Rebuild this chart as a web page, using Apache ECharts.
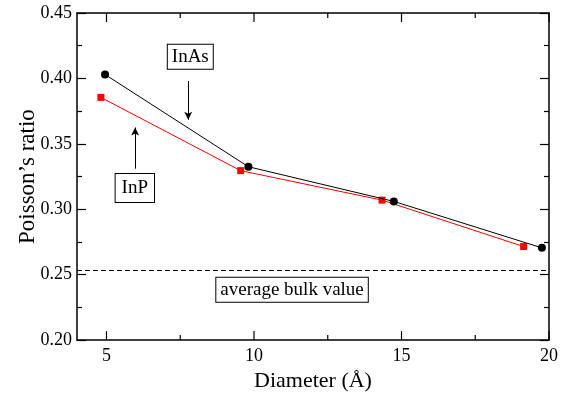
<!DOCTYPE html>
<html><head><meta charset="utf-8">
<script src="https://cdn.jsdelivr.net/npm/echarts@6/dist/echarts.min.js"></script>
<style>html,body{margin:0;padding:0;background:#fff}#c{width:567px;height:397px}</style>
</head><body><div id="c"></div>
<script>
const inasX = [4.95, 9.81, 14.74, 19.76];
const inasY = [0.403, 0.3325, 0.306, 0.2705];
const inpX = [4.81, 9.55, 14.34, 19.14];
const inpY = [0.3855, 0.3295, 0.307, 0.2715];
const bulkValue = 0.2535;
const xMajorTicks = [5, 10, 15, 20];
const xMinorTicks = [7.5, 12.5, 17.5];
const labels = ['InAs', 'InP', 'average bulk value'];

const F = 'Liberation Serif';
const chart = echarts.init(document.getElementById('c'), null, {renderer: 'canvas'});

function xAx(pos, showLabel) {
  return {
    type: 'value', min: 4, max: 20, position: pos,
    axisLine: {show: true, onZero: false, lineStyle: {color: '#000', width: 1.5}},
    axisTick: {show: false},
    axisLabel: {show: showLabel, customValues: xMajorTicks, fontFamily: F, fontSize: 18, color: '#000', margin: 7},
    splitLine: {show: false}
  };
}
function yAx(pos, showLabel) {
  return {
    type: 'value', min: 0.2, max: 0.45, interval: 0.05, position: pos,
    axisLine: {show: true, onZero: false, lineStyle: {color: '#000', width: 1.5}},
    axisTick: {show: true, inside: true, length: 9, lineStyle: {color: '#000', width: 1.2}},
    minorTick: {show: true, splitNumber: 2, length: 5, lineStyle: {color: '#000', width: 1.2}},
    axisLabel: {show: showLabel, fontFamily: F, fontSize: 18, color: '#000', margin: 5,
      formatter: v => v.toFixed(2)},
    splitLine: {show: false}, minorSplitLine: {show: false}
  };
}

const xs = [xAx('bottom', true), xAx('top', false)];
xs[0].name = 'Diameter (Å)';
xs[0].nameLocation = 'middle';
xs[0].nameGap = 27;
xs[0].nameTextStyle = {fontFamily: F, fontSize: 22, color: '#000'};
const ys = [yAx('left', true), yAx('right', false)];
ys[0].name = 'Poisson\u2019s ratio';
ys[0].nameLocation = 'middle';
ys[0].nameGap = 38;
ys[0].nameMoveOverlap = false;
ys[0].nameTextStyle = {fontFamily: F, fontSize: 23, color: '#000'};

function boxPoint(text, coord, pad) {
  return {coord: coord, symbol: 'rect', symbolSize: 1,
    itemStyle: {color: 'rgba(0,0,0,0)'},
    label: {show: true, position: 'inside', formatter: text, fontFamily: F, fontSize: 19, color: '#000',
      backgroundColor: '#fff', borderColor: '#000', borderWidth: 1, padding: pad}};
}

const tickData = xMajorTicks.map(v => [v, 9]).concat(xMinorTicks.map(v => [v, 5]));

chart.setOption({
  animation: false,
  backgroundColor: '#fff',
  grid: {left: 77, right: 18, top: 13, bottom: 54},
  xAxis: xs,
  yAxis: ys,
  series: [
    {
      name: 'xticks', type: 'custom', silent: true, clip: false, z: 1,
      data: tickData,
      renderItem: function (params, api) {
        const v = api.value(0), len = api.value(1);
        const b = api.coord([v, 0.2]);
        const t = api.coord([v, 0.45]);
        return {type: 'group', children: [
          {type: 'line', shape: {x1: b[0], y1: b[1], x2: b[0], y2: b[1] - len}, style: {stroke: '#000', lineWidth: 1.2}},
          {type: 'line', shape: {x1: t[0], y1: t[1], x2: t[0], y2: t[1] + len}, style: {stroke: '#000', lineWidth: 1.2}}
        ]};
      }
    },
    {
      name: 'InP', type: 'line', data: inpX.map((x, i) => [x, inpY[i]]),
      symbol: 'rect', symbolSize: 7, color: '#ff0000',
      lineStyle: {color: '#ff0000', width: 1}, itemStyle: {color: '#ff0000'}, z: 2,
      markLine: {
        silent: true, symbol: ['none', 'arrow'], symbolSize: [6, 8],
        lineStyle: {color: '#000', width: 1, type: 'solid'}, label: {show: false},
        data: [
          [{coord: [5.97, 0.331]}, {coord: [5.97, 0.3625]}],
          [{coord: [7.77, 0.398]}, {coord: [7.77, 0.3685]}]
        ]
      },
      markPoint: {
        silent: true,
        data: [
          boxPoint(labels[0], [7.84, 0.4166], [3, 4, 2, 4]),
          boxPoint(labels[1], [5.96, 0.3162], [5, 6, 4, 6]),
          boxPoint(labels[2], [11.29, 0.2385], [3, 4, 2, 4])
        ]
      }
    },
    {
      name: 'InAs', type: 'line', data: inasX.map((x, i) => [x, inasY[i]]),
      symbol: 'circle', symbolSize: 8, color: '#000',
      lineStyle: {color: '#000', width: 1}, itemStyle: {color: '#000'}, z: 3,
      markLine: {
        silent: true, symbol: ['none', 'none'],
        lineStyle: {color: '#000', width: 1, type: [5, 3]}, label: {show: false},
        data: [[{coord: [4, bulkValue]}, {coord: [20, bulkValue]}]]
      }
    }
  ]
});
</script></body></html>
